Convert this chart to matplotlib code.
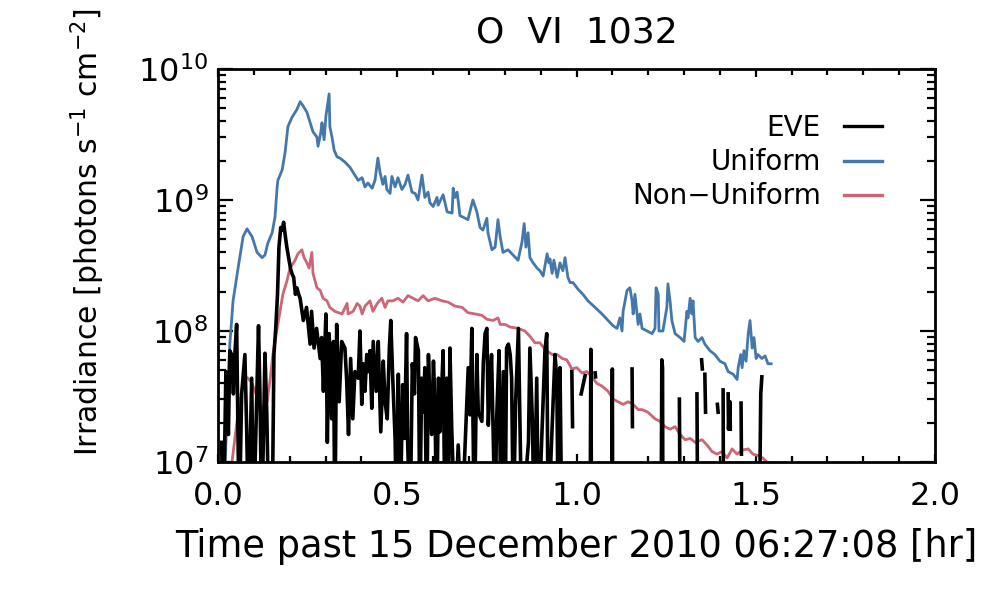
import numpy as np
import matplotlib
matplotlib.use("Agg")
import matplotlib.pyplot as plt
from matplotlib.ticker import MultipleLocator, LogLocator, FuncFormatter, NullFormatter

# ---- values (time in hr, log10 irradiance) ----
uniform_time = [
    .020, .033, .042, .056, .070, .081, .095, .109, .123, .131,
    .139, .151, .159, .165, .167, .179, .187, .195, .206, .220,
    .229, .237, .248, .257, .265, .276, .279, .287, .290, .296,
    .301, .307, .310, .312, .318, .324, .332, .340, .354, .368,
    .382, .391,
    .402, .410, .418, .430, .438, .444, .446, .452, .460, .466,
    .471, .480, .485, .494, .502, .513, .522, .530, .541, .550,
    .558, .569, .577, .586, .591, .600, .611, .614, .628, .639,
    .653, .656, .661, .667, .675, .683, .697, .711, .722, .731,
    .739, .750, .753, .759, .764, .773, .781,
    .787, .795, .809, .823, .837, .848, .854, .859, .865, .870,
    .879, .890, .898, .907, .918, .923, .926, .932, .937, .946,
    .954, .962, .968, .976, .982, .990, 1.004, 1.018, 1.032, 1.052,
    1.071, 1.088, 1.102, 1.113, 1.121, 1.127, 1.130, 1.141, 1.149, 1.155,
    1.158, 1.163, 1.172, 1.177,
    1.183, 1.197, 1.211, 1.219, 1.222, 1.228, 1.230, 1.241, 1.252, 1.255,
    1.261, 1.266, 1.275, 1.289, 1.300, 1.308, 1.311, 1.317, 1.322, 1.325,
    1.331, 1.339, 1.350, 1.358, 1.372, 1.386, 1.400, 1.414, 1.423, 1.437,
    1.448, 1.451, 1.458, 1.462, 1.467, 1.473, 1.479, 1.484, 1.490, 1.495,
    1.501, 1.506, 1.517, 1.526, 1.534, 1.543]
uniform_log = [
    7.00, 7.90, 8.23, 8.48, 8.72, 8.78, 8.72, 8.60, 8.56, 8.58,
    8.67, 8.75, 8.87, 9.10, 9.15, 9.23, 9.36, 9.56, 9.63, 9.69,
    9.75, 9.72, 9.67, 9.59, 9.52, 9.48, 9.41, 9.52, 9.59, 9.46,
    9.64, 9.75, 9.81, 9.56, 9.48, 9.38, 9.33, 9.32, 9.29, 9.25,
    9.19, 9.15,
    9.17, 9.10, 9.13, 9.09, 9.15, 9.28, 9.32, 9.21, 9.12, 9.18,
    9.08, 9.05, 9.18, 9.10, 9.17, 9.08, 9.12, 9.19, 9.06, 9.05,
    9.00, 9.19, 9.02, 9.06, 8.98, 8.95, 9.02, 8.96, 9.04, 8.91,
    8.90, 9.09, 9.02, 9.06, 8.88, 8.87, 8.85, 9.00, 8.91, 8.79,
    8.77, 8.86, 8.75, 8.68, 8.62, 8.64, 8.85,
    8.72, 8.60, 8.62, 8.58, 8.54, 8.68, 8.82, 8.64, 8.75, 8.56,
    8.52, 8.48, 8.46, 8.42, 8.59, 8.52, 8.55, 8.44, 8.54, 8.41,
    8.52, 8.46, 8.56, 8.41, 8.37, 8.37, 8.32, 8.28, 8.23, 8.18,
    8.13, 8.08, 8.04, 8.02, 8.10, 8.00, 8.15, 8.31, 8.33, 8.23,
    8.13, 8.28, 8.05, 8.13,
    8.02, 8.00, 7.98, 8.02, 8.33, 8.28, 8.00, 8.00, 8.18, 8.36,
    8.23, 8.08, 7.98, 7.95, 7.92, 8.15, 8.10, 8.25, 8.13, 8.23,
    7.95, 7.92, 7.95, 7.90, 7.85, 7.82, 7.77, 7.75, 7.69, 7.67,
    7.63, 7.72, 7.82, 7.72, 7.85, 7.77, 7.98, 8.08, 7.87, 7.95,
    7.79, 7.82, 7.79, 7.81, 7.75, 7.75]

nonuni_time = [
    .039, .053, .067, .075, .084, .095, .103, .117, .126, .137,
    .145, .153, .165, .173, .181, .192, .201, .215, .223, .234,
    .240, .248, .254, .262, .265, .276, .285, .293, .304, .312,
    .326, .346, .360, .363, .377, .388, .396,
    .402, .410, .424, .432, .444, .457, .466, .474, .488, .502,
    .516, .530, .544, .558, .572, .586, .605, .625, .642, .661,
    .681, .697, .717, .736, .750, .767, .781,
    .787, .801, .815, .837, .856, .870, .884, .898, .912, .932,
    .946, .960, .973, .987, 1.001, 1.015, 1.029, 1.043, 1.057, 1.071,
    1.088, 1.102, 1.116, 1.130, 1.144, 1.158, 1.172,
    1.183, 1.199, 1.219, 1.233, 1.247, 1.261, 1.275, 1.289, 1.303, 1.317,
    1.331, 1.350, 1.364, 1.378, 1.392, 1.406, 1.420, 1.434, 1.448, 1.462,
    1.479, 1.492, 1.506, 1.520, 1.531, 1.540]
nonuni_log = [
    7.00, 7.31, 7.56, 7.65, 7.64, 7.60, 7.54, 7.44, 7.40, 7.46,
    7.62, 7.82, 8.02, 8.15, 8.28, 8.38, 8.48, 8.54, 8.59, 8.62,
    8.56, 8.52, 8.48, 8.60, 8.44, 8.33, 8.31, 8.25, 8.23, 8.18,
    8.15, 8.13, 8.21, 8.13, 8.15, 8.21, 8.19,
    8.13, 8.19, 8.23, 8.15, 8.21, 8.25, 8.18, 8.23, 8.23, 8.25,
    8.22, 8.27, 8.25, 8.23, 8.27, 8.23, 8.25, 8.23, 8.22, 8.19,
    8.18, 8.14, 8.13, 8.12, 8.09, 8.08, 8.10,
    8.05, 8.05, 8.03, 8.02, 8.00, 7.96, 7.91, 7.91, 7.86, 7.82,
    7.82, 7.79, 7.78, 7.71, 7.72, 7.68, 7.69, 7.65, 7.60, 7.58,
    7.54, 7.48, 7.46, 7.44, 7.46, 7.44, 7.40,
    7.40, 7.38, 7.33, 7.31, 7.27, 7.25, 7.27, 7.21, 7.17, 7.18,
    7.15, 7.17, 7.13, 7.08, 7.06, 7.08, 7.03, 7.10, 7.06, 7.09,
    7.10, 7.06, 7.05, 7.03, 7.00, 6.98]

# EVE: 6.5 = below the plotted range, nan = missing sample
nan = np.nan
eve_time = [
    .010, .015, .022, .029, .033, .038, .043, .047, .052, .059,
    .066, .075, .080, .085, .094, .099, .113, .117, .122, .131,
    .136, .142, .151, .156, .161, .166, .170, .175, .179, .183,
    .188, .192, .197, .202, .206, .211, .216, .220, .225,
    .229, .238, .247, .257, .261, .268, .275, .285, .289, .294,
    .301, .305, .310, .317, .322, .326, .331, .338, .345, .354,
    .359, .364, .370, .376, .382, .391, .396, .401, .405, .410,
    .415, .419, .424, .429, .433, .441, .447, .454, .461, .466,
    .472, .478, .482, .487, .494, .498, .503, .508, .515, .520, .526,
    .529, .536, .542, .548, .551, .559, .563, .568, .573, .577,
    .582, .587, .591, .596, .601, .605, .610, .615, .619, .624,
    .628, .633, .638, .642, .647, .652, .661, .670, .680, .698,
    .703, .708, .715, .722, .726, .736, .740, .745, .750, .754,
    .759, .763, .773,
    .777, .784, .789, .796, .801, .805, .810, .815, .819, .824,
    .830, .838, .842, .847, .866, .870, .877, .882, .889, .894,
    .912, .917, .921, .940, .945, .949, .954, .959,
    nan, .987, .989, nan, 1.013, 1.024, nan, 1.038, 1.040, 1.042, nan,
    1.052, 1.053, nan, 1.098, 1.100, 1.101, nan, 1.155, 1.156, nan,
    1.236, 1.238, 1.240, 1.241, nan, 1.287, 1.289, nan, 1.336, 1.338, nan,
    1.349, 1.351, nan, 1.358, 1.360, nan, 1.393, 1.395, nan, 1.409, 1.410, nan,
    1.423, 1.424, 1.428, 1.429, nan, 1.459, 1.460, nan, 1.510, 1.514, 1.517]
eve_log = [
    7.15, 6.5, 7.69, 7.21, 7.85, 7.82, 7.52, 7.82, 8.05, 6.5,
    7.52, 7.82, 7.25, 6.5, 7.64, 6.5, 8.04, 7.52, 6.5, 7.83,
    7.38, 6.5, 6.5, 7.82, 8.02, 8.28, 8.64, 8.79, 8.77, 8.83,
    8.72, 8.64, 8.56, 8.48, 8.44, 8.41, 8.28, 8.33, 8.28,
    8.25, 8.08, 8.18, 7.90, 8.15, 7.87, 8.02, 7.79, 7.95, 7.54,
    8.13, 7.15, 7.98, 7.33, 7.92, 6.5, 8.05, 7.46, 7.92, 7.87,
    7.62, 7.21, 7.79, 7.33, 7.69, 7.64, 8.00, 7.44, 7.75, 7.54,
    7.82, 7.69, 7.85, 7.41, 7.92, 7.54, 7.92, 7.23, 7.77, 7.46,
    7.33, 7.87, 8.08, 7.67, 7.18, 6.5, 7.67, 6.5, 7.59, 7.18, 7.98,
    7.15, 6.5, 7.75, 7.52, 7.95, 7.85, 6.5, 7.64, 7.38, 7.72,
    6.5, 7.82, 7.46, 7.21, 7.77, 7.46, 6.5, 7.64, 7.23, 7.56,
    7.85, 6.5, 7.64, 6.5, 7.87, 7.25, 6.5, 7.13, 6.5, 7.72,
    7.36, 8.02, 6.5, 7.82, 7.38, 7.31, 7.75, 7.98, 8.02, 7.28,
    7.62, 7.82, 6.5,
    7.31, 7.85, 6.5, 7.69, 6.5, 7.87, 7.90, 7.82, 7.64, 6.5,
    7.44, 8.02, 7.36, 6.5, 7.15, 7.87, 7.31, 6.5, 7.64, 6.5,
    7.85, 7.98, 6.5, 7.82, 7.64, 6.5, 7.72, 6.5,
    nan, 7.69, 7.27, nan, 7.52, 7.66, nan, 6.5, 7.86, 6.5, nan,
    7.68, 7.65, nan, 6.5, 7.71, 6.5, nan, 7.71, 7.27, nan,
    6.5, 7.78, 7.72, 6.5, nan, 7.48, 6.5, nan, 7.52, 6.5, nan,
    7.78, 7.71, nan, 7.67, 7.38, nan, 7.44, 7.38, nan, 7.55, 6.5, nan,
    7.52, 7.25, 7.46, 7.25, nan, 7.45, 7.06, nan, 6.5, 7.52, 7.65]

x_ticks = [0.0, 0.5, 1.0, 1.5, 2.0]

blue = '#4477AA'
red = '#CC6677'

plt.rcParams['font.family'] = 'DejaVu Sans'
plt.rcParams['mathtext.default'] = 'regular'

fig = plt.figure(figsize=(10, 6), dpi=100)
ax = fig.add_axes([0.218, 0.23, 0.717, 0.655])

l_uni, = ax.plot(uniform_time, 10 ** np.array(uniform_log), color=blue, lw=2.0, label='Uniform')
l_non, = ax.plot(nonuni_time, 10 ** np.array(nonuni_log), color=red, lw=2.0, label='Non-Uniform')
l_eve, = ax.plot(eve_time, 10 ** np.array(eve_log), color='black', lw=2.6, label='EVE')

ax.set_yscale('log')
ax.set_xlim(0, 2.0)
ax.set_ylim(1e7, 1e10)

ax.set_xticks(x_ticks)
ax.xaxis.set_major_formatter(FuncFormatter(lambda v, p: '%.1f' % v))
ax.xaxis.set_minor_locator(MultipleLocator(0.1))
ax.yaxis.set_major_locator(LogLocator(base=10))
ax.yaxis.set_minor_locator(LogLocator(base=10, subs=np.arange(2, 10)))
ax.yaxis.set_minor_formatter(NullFormatter())
ax.yaxis.set_major_formatter(FuncFormatter(lambda v, p: r'$10^{%d}$' % round(np.log10(v))))

ax.tick_params(which='both', direction='in', top=True, right=True, width=1.6, labelsize=23)
ax.tick_params(axis='x', which='major', length=6, pad=14)
ax.tick_params(axis='x', which='minor', length=4)
ax.tick_params(axis='y', which='major', length=11, pad=7)
ax.tick_params(axis='y', which='minor', length=6)
for s in ax.spines.values():
    s.set_linewidth(2)

ax.set_title('O  VI  1032', fontsize=26, pad=19)
ax.set_xlabel('Time past 15 December 2010 06:27:08 [hr]', fontsize=26.5, labelpad=11)
ax.set_ylabel(r'Irradiance [photons s$^{-1}$ cm$^{-2}$]', fontsize=21.5)
ax.yaxis.set_label_coords(-0.155, 0.585)

leg = ax.legend(handles=[l_eve, l_uni, l_non], labels=['EVE', 'Uniform', 'Non\u2212Uniform'],
                loc='upper right', bbox_to_anchor=(0.926, 0.885), markerfirst=False, frameon=False,
                fontsize=20, handlelength=1.35, handletextpad=0.85, labelspacing=0.22,
                borderpad=0, borderaxespad=0)
for h in leg.get_lines():
    h.set_linewidth(2.4)

fig.savefig('out.png', dpi=100)
